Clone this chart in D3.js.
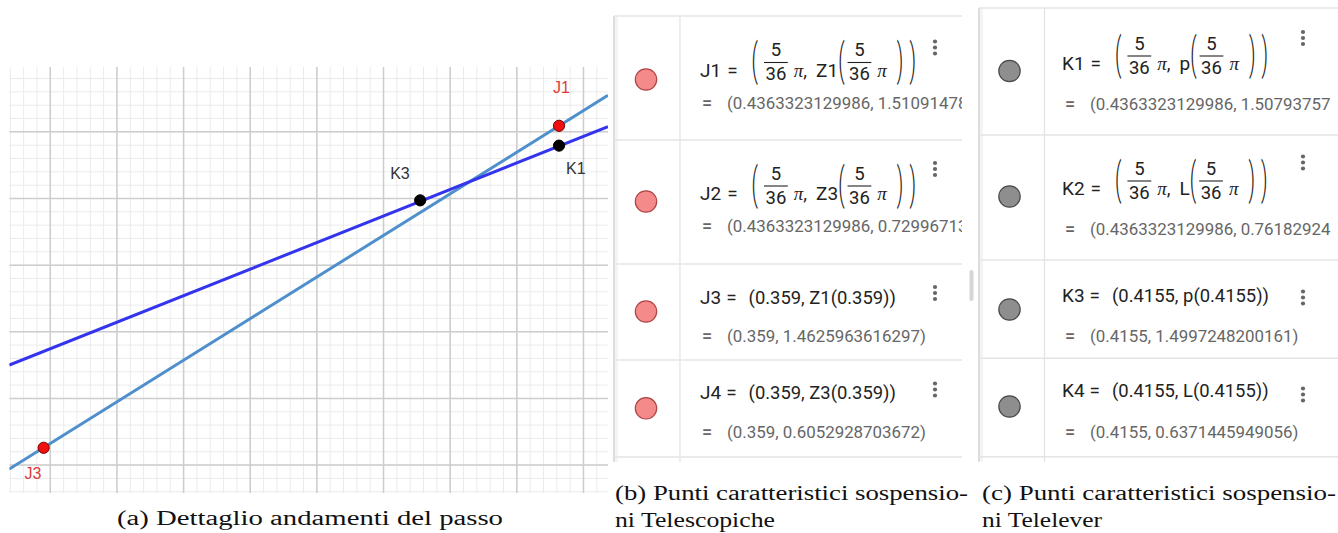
<!DOCTYPE html>
<html><head><meta charset="utf-8">
<script src="https://cdn.jsdelivr.net/npm/d3@7"></script>
<style>body{margin:0;background:#fff}svg{display:block}</style>
</head><body>
<svg id="c" width="1338" height="533"></svg>
<script>
// ---------------- DATA ----------------
// Panel (a): visible window of the GeoGebra graphics view
const xDomain = [0.35385, 0.44368];
const yDomain = [1.45581, 1.51978];
// Z1 (light blue) and p (dark blue) lines, endpoints
const lineZ1 = [{x: 0.35385, y: 1.4594}, {x: 0.44368, y: 1.5155}];
const lineP  = [{x: 0.35385, y: 1.4750}, {x: 0.44368, y: 1.5108}];
// characteristic points shown on the graph
const pointNames = ["J1", "J3", "K1", "K3"];
const pointX = [0.4363323129986, 0.359, 0.4363323129986, 0.4155];
const pointY = [1.5109147, 1.4625963616297, 1.5079375, 1.4997248200161];
const pointGroup = ["J", "J", "K", "K"];

// Panel (b) / (c): algebra view rows
const teleNames = ["J1", "J2", "J3", "J4"];
const teleFuncs = ["Z1", "Z3", "Z1", "Z3"];
const teleArgs = ["5/36π", "5/36π", "0.359", "0.359"];
const teleValues = ["(0.4363323129986, 1.51091478", "(0.4363323129986, 0.72996713",
                    "(0.359, 1.4625963616297)", "(0.359, 0.6052928703672)"];
const televNames = ["K1", "K2", "K3", "K4"];
const televFuncs = ["p", "L", "p", "L"];
const televArgs = ["5/36π", "5/36π", "0.4155", "0.4155"];
const televValues = ["(0.4363323129986, 1.50793757", "(0.4363323129986, 0.76182924",
                     "(0.4155, 1.4997248200161)", "(0.4155, 0.6371445949056)"];

const captionA = "(a) Dettaglio andamenti del passo";
const captionB = ["(b) Punti caratteristici sospensio-", "ni Telescopiche"];
const captionC = ["(c) Punti caratteristici sospensio-", "ni Telelever"];

// ---------------- DRAW ----------------
const svg = d3.select("#c");
const MATHF = "Roboto, 'Open Sans', sans-serif";
const SERIF = "'Liberation Serif', 'DejaVu Serif', serif";

// ===== Panel (a) =====
const A = {x0: 9.3, x1: 608, y0: 66.7, y1: 493};
const x = d3.scaleLinear().domain(xDomain).range([A.x0, A.x1]);
const y = d3.scaleLinear().domain(yDomain).range([A.y1, A.y0]);
const ga = svg.append("g");
ga.append("clipPath").attr("id", "clipA").append("rect")
  .attr("x", A.x0).attr("y", A.y0).attr("width", A.x1 - A.x0).attr("height", A.y1 - A.y0);
const gaa = ga.append("g").attr("clip-path", "url(#clipA)");
const minorX = d3.ticks(xDomain[0], xDomain[1], 45), minorY = d3.ticks(yDomain[0], yDomain[1], 32);
const majorX = x.ticks(9), majorY = y.ticks(6);
gaa.selectAll(".mvx").data(minorX).join("line")
  .attr("x1", d => x(d)).attr("x2", d => x(d)).attr("y1", A.y0).attr("y2", A.y1)
  .attr("stroke", "#ebebeb").attr("stroke-width", 1);
gaa.selectAll(".mhy").data(minorY).join("line")
  .attr("y1", d => y(d)).attr("y2", d => y(d)).attr("x1", A.x0).attr("x2", A.x1)
  .attr("stroke", "#ebebeb").attr("stroke-width", 1);
gaa.selectAll(".Mvx").data(majorX).join("line")
  .attr("x1", d => x(d)).attr("x2", d => x(d)).attr("y1", A.y0).attr("y2", A.y1)
  .attr("stroke", "#cdcdcd").attr("stroke-width", 1.5);
gaa.selectAll(".Mhy").data(majorY).join("line")
  .attr("y1", d => y(d)).attr("y2", d => y(d)).attr("x1", A.x0).attr("x2", A.x1)
  .attr("stroke", "#cdcdcd").attr("stroke-width", 1.5);
const lineGen = d3.line().x(d => x(d.x)).y(d => y(d.y));
gaa.append("path").datum(lineZ1).attr("d", lineGen).attr("fill", "none")
  .attr("stroke", "#4f8fcc").attr("stroke-width", 3);
gaa.append("path").datum(lineP).attr("d", lineGen).attr("fill", "none")
  .attr("stroke", "#3434ee").attr("stroke-width", 3);
const pts = pointNames.map((n, i) => ({n, x: pointX[i], y: pointY[i], g: pointGroup[i]}));
const labelOff = {J1: [-6, -33], J3: [-19, 31], K1: [7, 28], K3: [-30, -21.5]};
gaa.selectAll(".pt").data(pts).join("circle")
  .attr("cx", d => x(d.x)).attr("cy", d => y(d.y)).attr("r", 5.6)
  .attr("fill", d => d.g === "J" ? "#f01010" : "#000")
  .attr("stroke", d => d.g === "J" ? "#7a0000" : "#000").attr("stroke-width", 1);
gaa.selectAll(".lb").data(pts).join("text")
  .attr("x", d => x(d.x) + labelOff[d.n][0]).attr("y", d => y(d.y) + labelOff[d.n][1])
  .attr("font-family", "'Liberation Sans', Arial, sans-serif").attr("font-size", 16)
  .attr("fill", d => d.g === "J" ? "#e03a3a" : "#333").text(d => d.n);

// ===== algebra panels =====
function flow(g, x0, base, items) {
  let cx = x0;
  items.forEach(it => {
    if (it.gap != null) { cx += it.gap; return; }
    if (it.frac) {
      const fs = 18.5;
      const n = g.append("text").attr("font-family", MATHF).attr("font-size", fs).attr("fill", "#222").text(it.frac[0]);
      const d = g.append("text").attr("font-family", MATHF).attr("font-size", fs).attr("fill", "#222").text(it.frac[1]);
      const w = Math.max(n.node().getComputedTextLength(), d.node().getComputedTextLength()) + 3;
      n.attr("x", cx + w / 2).attr("y", base - 20.5).attr("text-anchor", "middle");
      d.attr("x", cx + w / 2).attr("y", base + 3.5).attr("text-anchor", "middle");
      g.append("line").attr("x1", cx).attr("x2", cx + w).attr("y1", base - 14).attr("y2", base - 14)
        .attr("stroke", "#222").attr("stroke-width", 1.1);
      cx += w; return;
    }
    if (it.big) {
      const t = g.append("text").attr("font-family", MATHF).attr("font-weight", 300)
        .attr("font-size", 20).attr("fill", "#222").text(it.big)
        .attr("transform", `translate(${cx},${base - 13.5}) scale(1,2.2)`).attr("y", 5.5);
      cx += t.node().getComputedTextLength(); return;
    }
    if (it.pi) {
      const t = g.append("text").attr("font-family", SERIF).attr("font-style", "italic")
        .attr("font-size", 19).attr("fill", "#222").attr("x", cx).attr("y", base).text("π");
      cx += t.node().getComputedTextLength(); return;
    }
    const t = g.append("text").attr("font-family", MATHF).attr("font-size", it.fs || 19)
      .attr("fill", it.fill || "#222").attr("x", cx).attr("y", base).text(it.t);
    cx += t.node().getComputedTextLength();
  });
  return cx;
}

function kebab(g, cx, cy) {
  [-6, 0, 6].forEach(o => g.append("circle").attr("cx", cx).attr("cy", cy + o).attr("r", 2.1).attr("fill", "#666"));
}

function panel(cfg) {
  const g = svg.append("g");
  const id = "clip" + cfg.id;
  g.append("clipPath").attr("id", id).append("rect")
    .attr("x", cfg.left - 2).attr("y", 0).attr("width", cfg.right - cfg.left + 2).attr("height", 533);
  const gg = g.append("g").attr("clip-path", `url(#${id})`);
  // borders
  gg.append("line").attr("x1", cfg.left).attr("x2", cfg.left).attr("y1", cfg.rows[0].top).attr("y2", cfg.bottom + 5)
    .attr("stroke", "#d2d2d2").attr("stroke-width", 1.5);
  gg.append("rect").attr("x", cfg.left + 1).attr("y", cfg.rows[0].top).attr("width", 3).attr("height", cfg.bottom + 5 - cfg.rows[0].top)
    .attr("fill", "#f4f4f4");
  gg.append("line").attr("x1", cfg.sep).attr("x2", cfg.sep).attr("y1", cfg.rows[0].top).attr("y2", cfg.bottom + 5)
    .attr("stroke", "#e2e2e2").attr("stroke-width", 1.2);
  const tops = cfg.rows.map(r => r.top).concat([cfg.bottom]);
  gg.selectAll(".hs").data(tops).join("line")
    .attr("x1", cfg.left).attr("x2", cfg.right).attr("y1", d => d).attr("y2", d => d)
    .attr("stroke", "#e4e4e4").attr("stroke-width", 1.5);
  cfg.names.forEach((name, i) => {
    const r = cfg.rows[i];
    gg.append("circle").attr("cx", cfg.circX).attr("cy", r.circle).attr("r", 10.7)
      .attr("fill", cfg.fill).attr("stroke", cfg.stroke).attr("stroke-width", 1.2);
    const arg = cfg.args[i];
    let items;
    if (arg.indexOf("π") >= 0) {
      const [num, den] = arg.replace("π", "").split("/");
      items = [{t: name}, {gap: 6}, {t: "="}, {gap: 14}, {big: "("}, {gap: 6}, {frac: [num, den]}, {gap: 6}, {pi: 1},
        {t: ","}, {gap: 9}, {t: cfg.funcs[i]}, {big: "("}, {gap: 3}, {frac: [num, den]}, {gap: 6}, {pi: 1}, {gap: 10},
        {big: ")"}, {gap: 6}, {big: ")"}];
    } else {
      items = [{t: name}, {gap: 5}, {t: "="}, {gap: 12}, {t: "(" + arg + ", " + cfg.funcs[i] + "(" + arg + "))", fs: 18.4}];
    }
    flow(gg, cfg.mathX, r.math, items);
    gg.append("text").attr("x", cfg.valX).attr("y", r.val).attr("font-family", MATHF).attr("font-size", 18)
      .attr("font-weight", 500).attr("fill", "#666").text("=");
    gg.append("text").attr("x", cfg.valX + 25).attr("y", r.val).attr("font-family", MATHF).attr("font-size", 16.9)
      .attr("fill", "#666").text(cfg.values[i]);
    kebab(gg, cfg.kebabX, r.kebab);
  });
}

panel({id: "B", left: 614, right: 962, sep: 680, bottom: 457, circX: 646, mathX: 700, valX: 702, kebabX: 935,
  fill: "#f48a8a", stroke: "#b04545", names: teleNames, funcs: teleFuncs, args: teleArgs, values: teleValues,
  rows: [{top: 16, math: 76.5, val: 108.5, kebab: 47.5, circle: 79.5},
         {top: 140, math: 200, val: 232, kebab: 169, circle: 201.5},
         {top: 264, math: 303.5, val: 341.5, kebab: 293, circle: 311.5},
         {top: 360, math: 398.5, val: 438, kebab: 389.5, circle: 408.3}]});
panel({id: "C", left: 979, right: 1338, sep: 1044.5, bottom: 456.7, circX: 1009.5, mathX: 1062, valX: 1065, kebabX: 1303,
  fill: "#8e8e8e", stroke: "#4a4a4a", names: televNames, funcs: televFuncs, args: televArgs, values: televValues,
  rows: [{top: 8, math: 70, val: 110, kebab: 38, circle: 71},
         {top: 135, math: 195, val: 235, kebab: 162.5, circle: 196.5},
         {top: 260, math: 301.7, val: 341.7, kebab: 297.5, circle: 309.5},
         {top: 358.3, math: 396.7, val: 438.3, kebab: 394.5, circle: 406.5}]});

// scrollbar thumb of panel (b)
svg.append("rect").attr("x", 969.5).attr("y", 270).attr("width", 4).attr("height", 31).attr("rx", 2).attr("fill", "#d6d6d6");

// captions
function cap(txt, x0, base, len) {
  svg.append("text").attr("x", x0).attr("y", base).attr("font-family", SERIF).attr("font-size", 20.5)
    .attr("fill", "#111").attr("textLength", len).attr("lengthAdjust", "spacingAndGlyphs").text(txt);
}
cap(captionA, 117, 525, 386);
cap(captionB[0], 615, 500, 353);
cap(captionB[1], 615, 526.5, 160);
cap(captionC[0], 982, 500, 354);
cap(captionC[1], 982, 526.5, 120);
</script>
</body></html>
